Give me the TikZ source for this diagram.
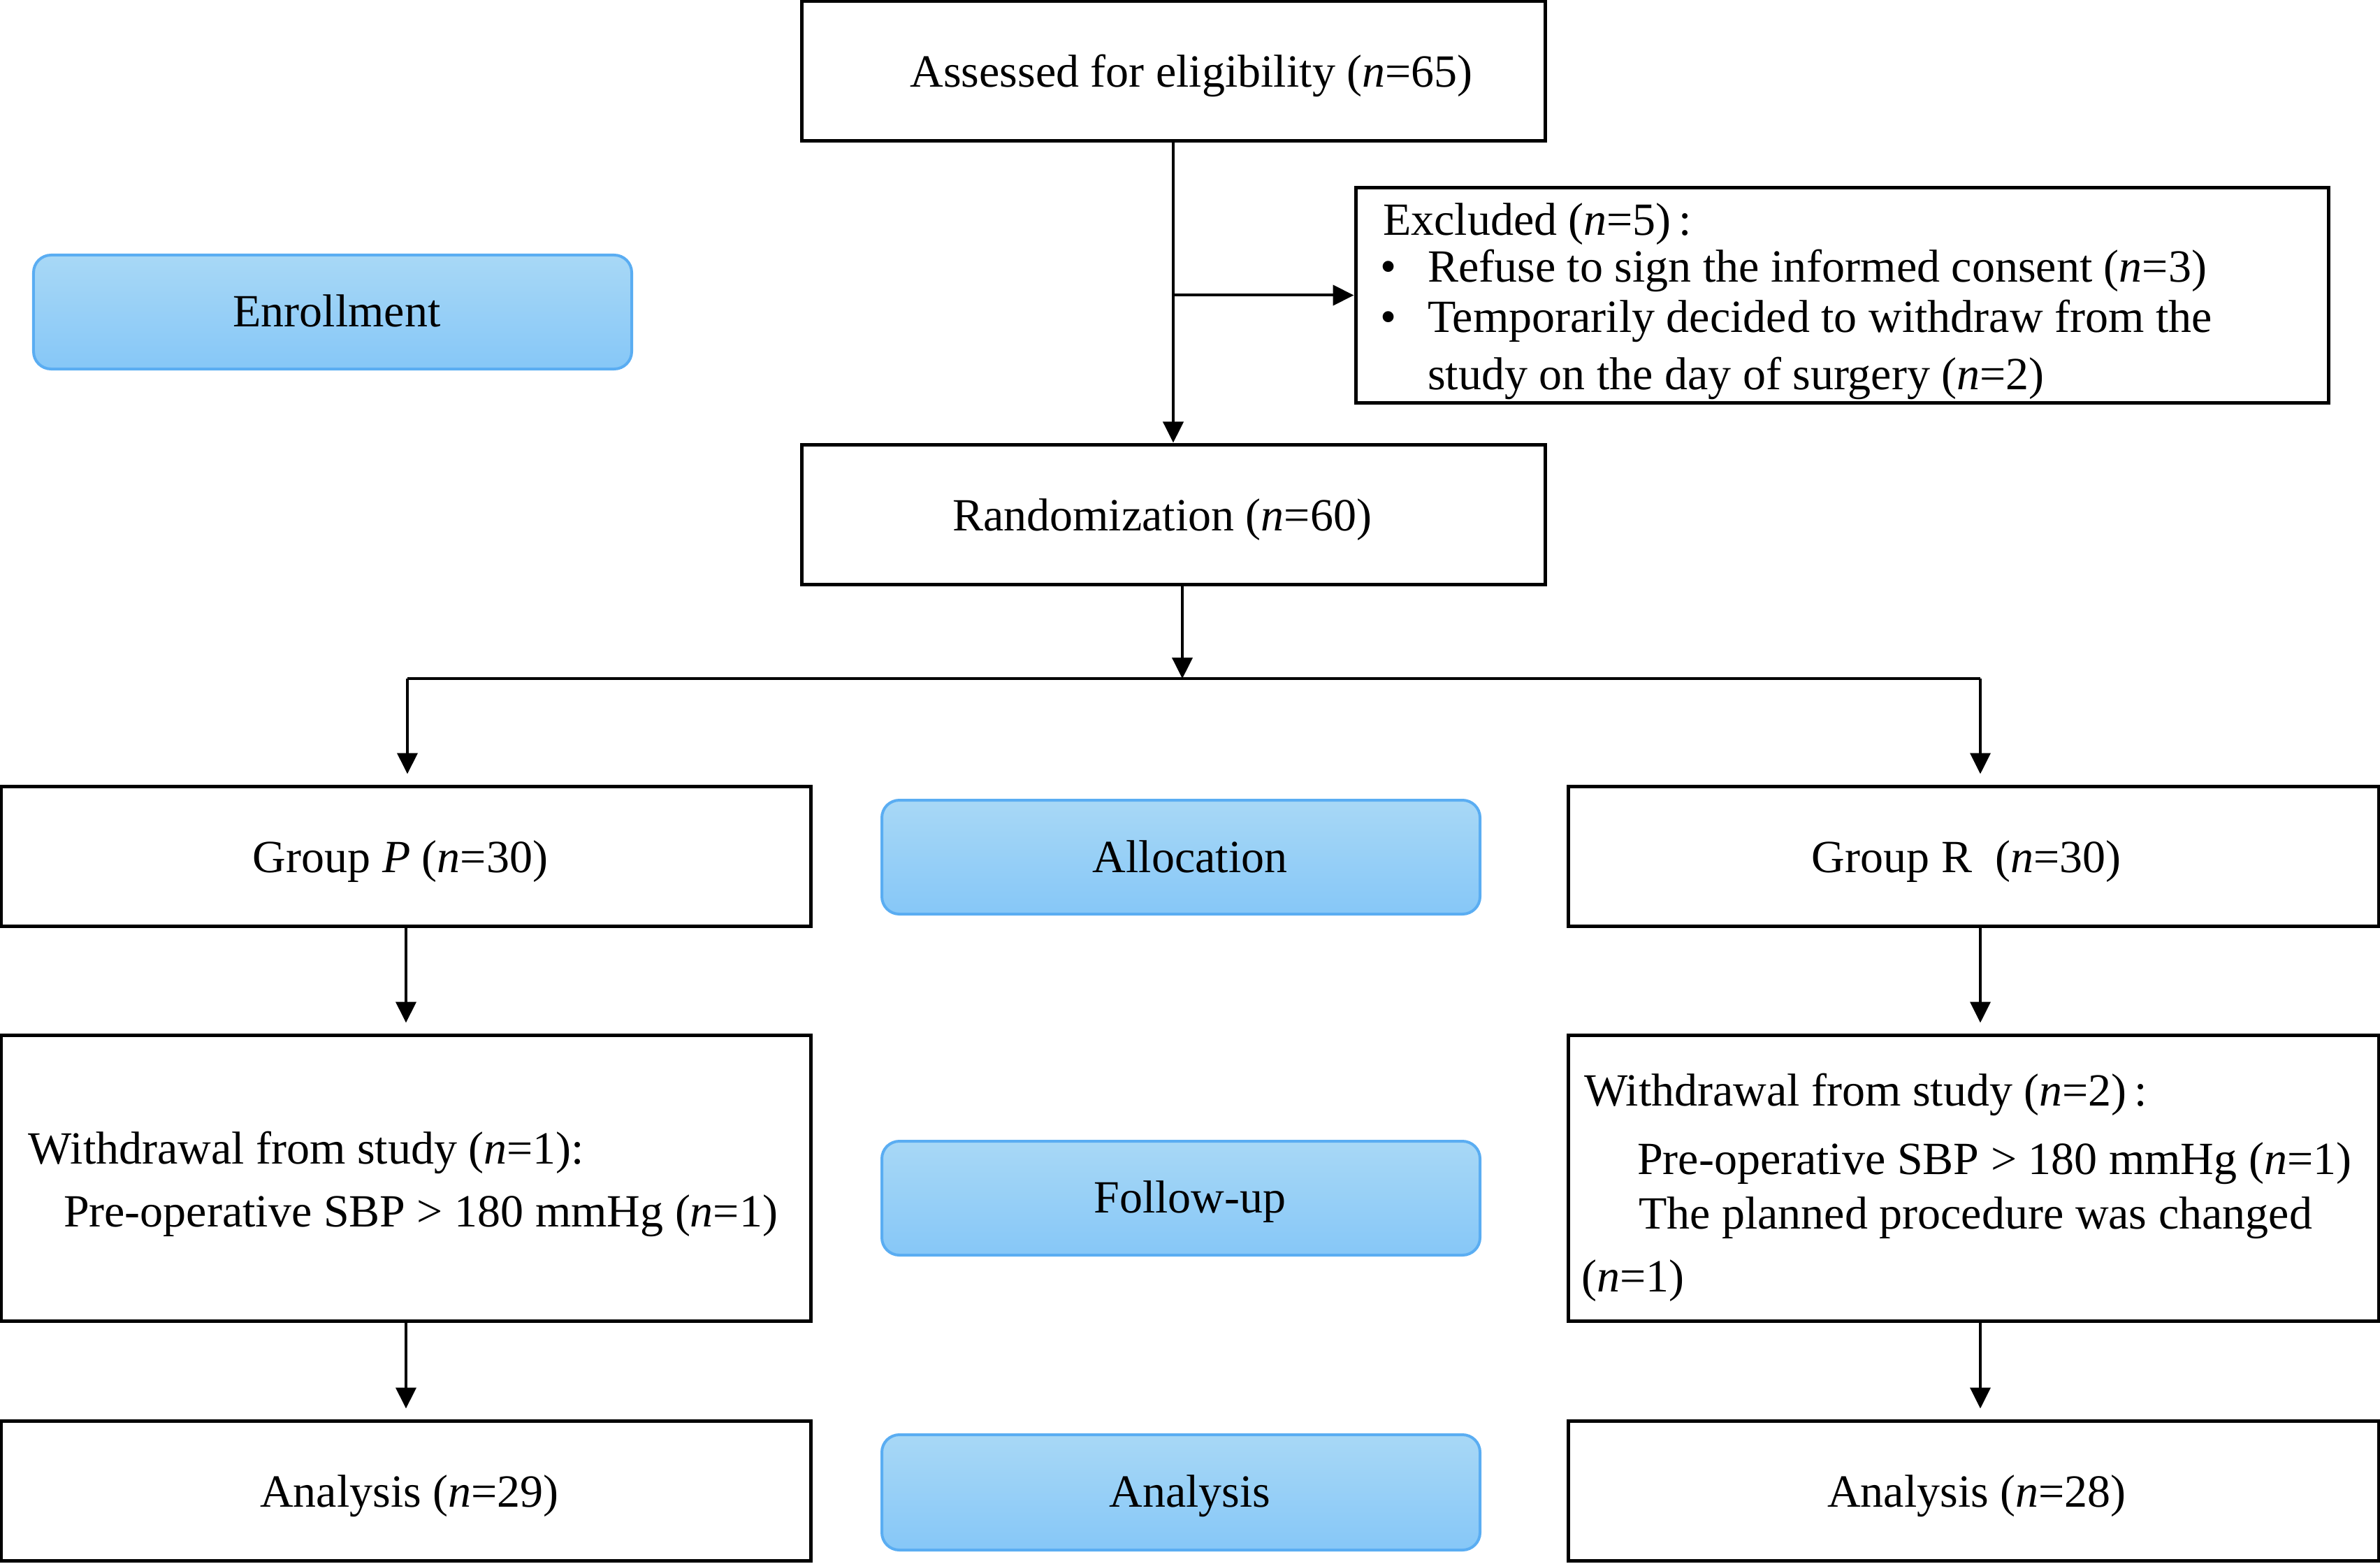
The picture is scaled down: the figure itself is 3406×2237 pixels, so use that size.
\documentclass[tikz,border=0pt]{standalone}
\usepackage{fontspec}
\setmainfont{Liberation Serif}
\usetikzlibrary{arrows.meta}
\definecolor{bluetop}{HTML}{A8D8F6}
\definecolor{bluebot}{HTML}{86C7F7}
\definecolor{blueedge}{HTML}{5AADF2}
\begin{document}
\begin{tikzpicture}[x=0.2pt,y=-0.2pt,
  every node/.style={font=\fontsize{13.2pt}{16pt}\selectfont, inner sep=0pt},
  wbox/.style={draw, line width=1pt, minimum height=40pt},
  bbox/.style={draw=blueedge, line width=0.8pt, rounded corners=5pt, top color=bluetop, bottom color=bluebot, minimum width=171.2pt, minimum height=32.6pt},
  arr/.style={line width=0.8pt, -{Triangle[length=6pt,width=5.8pt]}},
  txt/.style={anchor=base west},
  ctxt/.style={anchor=base},
  bul/.style={anchor=base}]
\useasboundingbox (0,0) rectangle (3406,2237);

% top
\node[wbox, minimum width=212.8pt] (assess) at (1679,102) {};
\node[ctxt] (assesst) at (1705,125) {Assessed for eligibility (\textit{n}=65)};
\node[wbox, minimum width=278.4pt, minimum height=61.4pt] (excl) at (2636,422.5) {};
\node[txt] (e1) at (1978,337) {Excluded (\textit{n}=5)\,:};
\node[bul] (b1) at (1987,404) {•};
\node[txt] (e2) at (2042,404) {Refuse to sign the informed consent (\textit{n}=3)};
\node[bul] (b2) at (1987,475) {•};
\node[txt] (e3) at (2042,475) {Temporarily decided to withdraw from the};
\node[txt] (e4) at (2042,557) {study on the day of surgery (\textit{n}=2)};

\node[bbox] (enroll) at (476,446.5) {};
\node[ctxt] (enrollt) at (482,467) {Enrollment};
\node[wbox, minimum width=212.8pt] (rand) at (1679,736) {};
\node[ctxt] (randt) at (1663,759) {Randomization (\textit{n}=60)};

% allocation row
\node[wbox, minimum width=231.6pt] (gp) at (581,1225) {};
\node[ctxt] (gpt) at (573,1248) {Group \textit{P} (\textit{n}=30)};
\node[bbox] (alloc) at (1690,1226.5) {};
\node[ctxt] (alloct) at (1703,1248) {Allocation};
\node[wbox, minimum width=232pt] (gr) at (2824,1225) {};
\node[ctxt] (grt) at (2814,1248) {Group R~ (\textit{n}=30)};

% follow-up row
\node[wbox, minimum width=231.6pt, minimum height=81.8pt] (wl) at (581,1685.5) {};
\node[txt] (wl1) at (40,1665) {Withdrawal from study (\textit{n}=1):};
\node[txt] (wl2) at (90,1755) {Pre-operative SBP > 180 mmHg (\textit{n}=1)};
\node[bbox] (fu) at (1690,1714.5) {};
\node[ctxt] (fut) at (1703,1735) {Follow-up};
\node[wbox, minimum width=232pt, minimum height=81.8pt] (wr) at (2824,1685.5) {};
\node[txt] (wr1) at (2266,1582) {Withdrawal from study (\textit{n}=2)\,:};
\node[txt] (wr2) at (2342,1680) {Pre-operative SBP > 180 mmHg (\textit{n}=1)};
\node[txt] (wr3) at (2344,1758) {The planned procedure was changed};
\node[txt] (wr4) at (2262,1848) {(\textit{n}=1)};

% analysis row
\node[wbox, minimum width=231.6pt] (al) at (581,2133) {};
\node[ctxt] (alt) at (586,2156) {Analysis (\textit{n}=29)};
\node[bbox, minimum height=33pt] (ab) at (1690,2135.5) {};
\node[ctxt] (abt) at (1703,2156) {Analysis};
\node[wbox, minimum width=232pt] (ar) at (2824,2133) {};
\node[ctxt] (art) at (2829,2156) {Analysis (\textit{n}=28)};

% connectors
\coordinate (bl) at (583,971);
\coordinate (bm) at (1692,971);
\coordinate (brt) at (2834,971);
\draw[arr] (assess.south) -- (rand.north);
\draw[arr] (assess.south |- excl.west) -- (excl.west);
\draw[arr] (rand.south -| bm) -- (bm);
\draw[line width=0.8pt] (bl) -- (brt);
\draw[arr, shorten >=3pt] (bl) -- (bl |- gp.north);
\draw[arr, shorten >=3pt] (brt) -- (brt |- gr.north);
\draw[arr, shorten >=3pt] (gp.south) -- (wl.north);
\draw[arr, shorten >=3pt] (wl.south) -- (al.north);
\draw[arr, shorten >=3pt] (gr.south -| brt) -- (wr.north -| brt);
\draw[arr, shorten >=3pt] (wr.south -| brt) -- (ar.north -| brt);
\end{tikzpicture}
\end{document}
